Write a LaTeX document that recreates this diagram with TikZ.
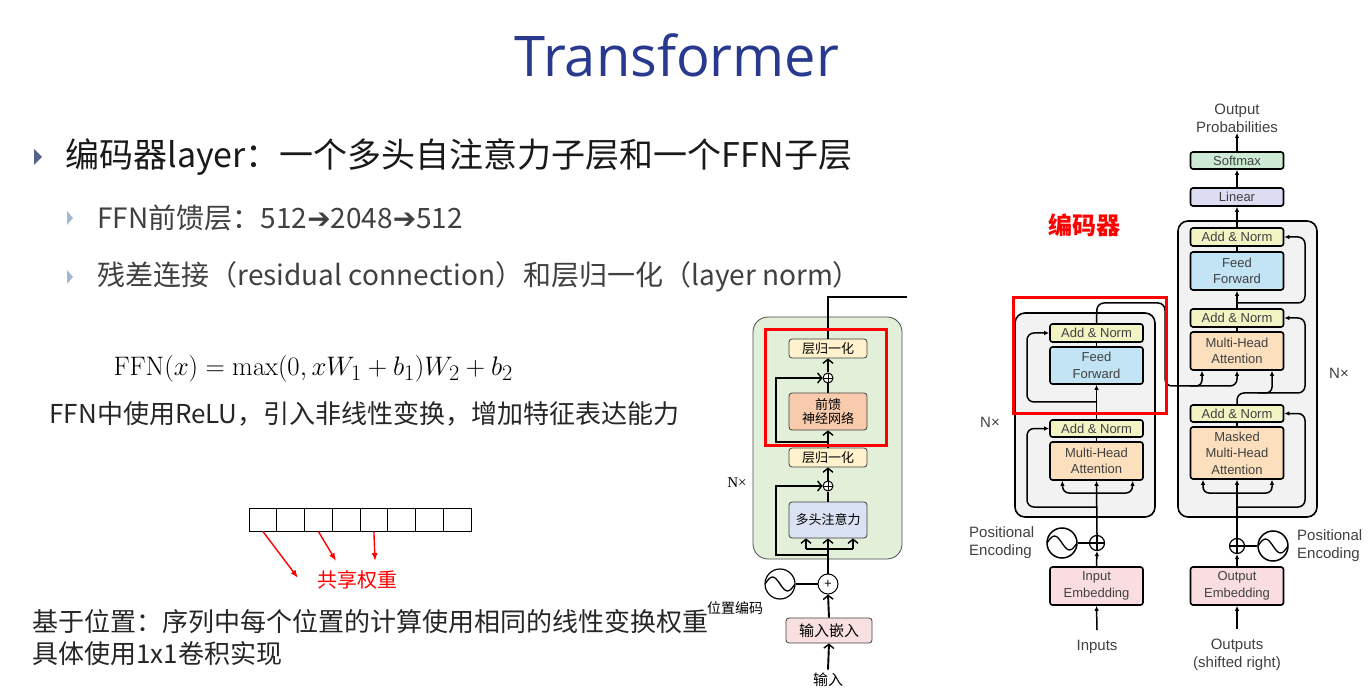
\documentclass[tikz,border=0pt]{standalone}
\usepackage[no-math]{fontspec}
\setmainfont{Noto Sans CJK SC}
\newfontfamily\titlefont{Open Sans}
\newfontfamily\figfont{Liberation Sans}
\newfontfamily\serifen{Liberation Serif}
\newfontfamily\symfont{DejaVu Sans}
\usetikzlibrary{arrows.meta}

\definecolor{titleblue}{RGB}{41,57,142}
\definecolor{bulletdark}{RGB}{84,98,140}
\definecolor{bulletlight}{RGB}{165,183,208}
\definecolor{subtext}{RGB}{64,64,64}
\definecolor{layergreen}{RGB}{226,239,217}
\definecolor{normyellow}{RGB}{255,242,204}
\definecolor{ffnsalmon}{RGB}{248,203,173}
\definecolor{attnblue}{RGB}{218,227,243}
\definecolor{embpink}{RGB}{248,224,224}
\definecolor{stackgray}{RGB}{242,242,242}
\definecolor{anyellow}{RGB}{242,244,195}
\definecolor{ffblue}{RGB}{194,228,245}
\definecolor{mhaorange}{RGB}{252,224,190}
\definecolor{embrose}{RGB}{249,221,225}
\definecolor{linlav}{RGB}{220,220,242}
\definecolor{smgreen}{RGB}{205,235,212}

\begin{document}
\begin{tikzpicture}[x=1pt, y=-1pt,
  mbox/.style={draw=black!75, line width=0.8pt, rounded corners=3pt, minimum width=78pt, align=center, inner sep=0pt, font=\fontsize{13}{14}\selectfont},
  tbox/.style={draw=black, line width=1.6pt, rounded corners=2.5pt, minimum width=93pt, align=center, inner sep=0pt, text=black!75, font=\figfont\fontsize{13}{16.5}\selectfont},
  lbl/.style={align=center, inner sep=0pt, text=black!75, font=\figfont\fontsize{15}{18}\selectfont},
  marr/.style={-{Straight Barb[length=4pt,width=10pt,line width=1.4pt]}, line width=1.9pt},
  tarr/.style={-{Latex[length=5pt,width=4.5pt]}, line width=1.5pt},
  redarr/.style={-{Latex[length=8pt,width=6pt]}, red, line width=1.4pt},
  plussmall/.style={circle, draw, fill=white, line width=1pt, minimum size=10pt, inner sep=0pt,
    path picture={\draw[line width=0.6pt] (path picture bounding box.north) -- (path picture bounding box.south)
      (path picture bounding box.west) -- (path picture bounding box.east);}},
  plusbig/.style={circle, draw, fill=white, line width=1.2pt, minimum size=15pt, inner sep=0pt,
    path picture={\draw[line width=1.2pt] (path picture bounding box.north) -- (path picture bounding box.south)
      (path picture bounding box.west) -- (path picture bounding box.east);}},
  sinecirc/.style={circle, draw, fill=white, line width=1.5pt, minimum size=30pt, inner sep=0pt,
    path picture={\draw[line width=1.3pt] ([xshift=-15pt]path picture bounding box.center) sin ([xshift=-7.5pt,yshift=7pt]path picture bounding box.center)
      cos (path picture bounding box.center) sin ([xshift=7.5pt,yshift=-7pt]path picture bounding box.center) cos ([xshift=15pt]path picture bounding box.center);}},
  cell/.style={draw, line width=1pt, minimum width=27.75pt, minimum height=23pt, inner sep=0pt}
]
\useasboundingbox (0,0) rectangle (1368,692);

% slide text
\node[font=\titlefont\fontsize{56}{60}\selectfont, text=titleblue] (title) at (677,55) {Transformer};
\fill[bulletdark] (34,149) -- (42,157) -- (34,165) -- cycle;
\node[anchor=west, font=\fontsize{34}{40}\selectfont, text=black!90] (pt1) at (62,157) {编码器layer：一个多头自注意力子层和一个FFN子层};
\fill[bulletlight] (67,211) -- (73,218) -- (67,225) -- cycle;
\node[anchor=west, font=\fontsize{28}{32}\selectfont, text=subtext] (pt2) at (94,218) {FFN前馈层：512{\symfont ➔}2048{\symfont ➔}512};
\fill[bulletlight] (67,270) -- (73,277) -- (67,284) -- cycle;
\node[anchor=west, font=\fontsize{28}{32}\selectfont, text=subtext] (pt3) at (94,277) {残差连接（residual connection）和层归一化（layer norm）};
\node[anchor=west, font=\fontsize{24.88}{28}\selectfont] (ffn) at (110,369) {\scalebox{1.075}{$\mathrm{FFN}(x)=\max(0,xW_1+b_1)W_2+b_2$}};
\node[anchor=west, font=\fontsize{26}{30}\selectfont, text=black!85] (relu) at (46,414) {FFN中使用ReLU，引入非线性变换，增加特征表达能力};

% shared weights
\foreach \i in {0,...,7}
  \node[cell] (c\i) at (262.9+\i*27.75,519.5) {};
\coordinate (w1) at (298,578);
\coordinate (w2) at (336,561);
\coordinate (w3) at (375,561);
\draw[redarr] (c0.south) -- (w1);
\draw[redarr] (c2.south) -- (w2);
\draw[redarr] (c4.south) -- (w3);
\node[font=\fontsize{20}{24}\selectfont, text=red] (shared) at (357,580) {共享权重};

\node[anchor=west, font=\fontsize{26}{30}\selectfont, text=black!85] (pos) at (29,622) {基于位置：序列中每个位置的计算使用相同的线性变换权重};
\node[anchor=west, font=\fontsize{26}{30}\selectfont, text=black!85] (conv) at (29,654) {具体使用1x1卷积实现};

% chinese encoder layer
\draw[draw=black!70, fill=layergreen, line width=0.8pt, rounded corners=15pt] (753,317) rectangle (902,559);
\node[mbox, fill=normyellow, minimum height=19pt] (mNorm2) at (828,348.5) {层归一化};
\node[plussmall] (mPlus2) at (828,378) {};
\node[mbox, fill=ffnsalmon, minimum height=37pt] (mFFN) at (828,411.5) {前馈\\神经网络};
\node[mbox, fill=normyellow, minimum height=19pt] (mNorm1) at (828,457.5) {层归一化};
\node[plussmall] (mPlus1) at (828,486) {};
\node[mbox, fill=attnblue, minimum height=36pt] (mAttn) at (828,520) {多头注意力};
\node[circle, draw, fill=white, line width=1pt, minimum size=20pt, inner sep=0pt, font=\fontsize{13}{14}\selectfont] (mPlus0) at (828,584) {+};
\node[sinecirc, line width=1.2pt] (mPE) at (780,584) {};
\node[mbox, fill=embpink, minimum width=86pt, minimum height=25pt, font=\fontsize{15}{16}\selectfont] (mEmb) at (829,630.5) {输入嵌入};
\node[font=\fontsize{15}{16}\selectfont] (mIn) at (828,680) {输入};
\node[font=\fontsize{14}{15}\selectfont] (mPosLbl) at (735,608) {位置编码};
\node[font=\serifen\fontsize{15}{16}\selectfont] (mN) at (737,483) {N×};

\draw[marr] (mIn.north) -- (mEmb.south);
\draw[marr] (mEmb.north) -- (mPlus0.south);
\draw[line width=2.5pt] (mPE.east) -- (mPlus0.west);
\draw[marr] (mPlus0.north) -- (mAttn.south);
\draw[line width=1.9pt] (806,549) -- (853,549);
\draw[marr] (806,549) -- ([xshift=-22pt]mAttn.south);
\draw[marr] (853,549) -- ([xshift=25pt]mAttn.south);
\draw[marr] (828,555) -- (776,555) -- (776,486) -- (mPlus1.west);
\draw[line width=1.9pt] (mAttn.north) -- (mPlus1.south);
\draw[marr] (mPlus1.north) -- (mNorm1.south);
\draw[marr] (mNorm1.north) -- (mFFN.south);
\draw[marr] (828,442) -- (776,442) -- (776,378) -- (mPlus2.west);
\draw[line width=1.9pt] (mFFN.north) -- (mPlus2.south);
\draw[marr] (mPlus2.north) -- (mNorm2.south);
\draw[line width=1.5pt] (mNorm2.north) -- (828,297) -- (907,297);
\draw[red, line width=3pt] (765,330) rectangle (886,445);

% original transformer figure
\draw[line width=1.6pt, fill=stackgray, rounded corners=10pt] (1015,313) rectangle (1155,517);
\draw[line width=1.6pt, fill=stackgray, rounded corners=10pt] (1178,221) rectangle (1317,517);

\node[tbox, fill=anyellow, minimum height=18pt] (encAN2) at (1096.5,333) {Add \& Norm};
\node[tbox, fill=ffblue, minimum height=37pt] (encFF) at (1096.5,365.5) {Feed\\Forward};
\node[tbox, fill=anyellow, minimum height=17pt] (encAN1) at (1096.5,428.5) {Add \& Norm};
\node[tbox, fill=mhaorange, minimum height=38pt] (encMHA) at (1096.5,461) {Multi-Head\\Attention};
\node[plusbig] (encPlus) at (1097,543) {};
\node[sinecirc] (encPE) at (1062,543) {};
\node[tbox, fill=embrose, minimum height=38pt] (encEmb) at (1096.5,586) {Input\\Embedding};
\node[lbl] (inputs) at (1097,647) {Inputs};
\node[lbl, align=left, anchor=west] (encPElbl) at (969,543) {Positional\\Encoding};
\node[lbl] (encN) at (990,422) {N×};

\node[tbox, fill=smgreen, minimum height=17pt] (softmax) at (1237,160.5) {Softmax};
\node[tbox, fill=linlav, minimum height=18pt] (linear) at (1237,197) {Linear};
\node[tbox, fill=anyellow, minimum height=18pt] (decAN3) at (1237,237) {Add \& Norm};
\node[tbox, fill=ffblue, minimum height=38pt] (decFF) at (1237,271) {Feed\\Forward};
\node[tbox, fill=anyellow, minimum height=18pt] (decAN2) at (1237,318) {Add \& Norm};
\node[tbox, fill=mhaorange, minimum height=38pt] (decMHA2) at (1237,351) {Multi-Head\\Attention};
\node[tbox, fill=anyellow, minimum height=17pt] (decAN1) at (1237,413.5) {Add \& Norm};
\node[tbox, fill=mhaorange, minimum height=52pt] (decMHA1) at (1237,453) {Masked\\Multi-Head\\Attention};
\node[plusbig] (decPlus) at (1237,546) {};
\node[sinecirc] (decPE) at (1273,546) {};
\node[tbox, fill=embrose, minimum height=38pt] (decEmb) at (1237,586) {Output\\Embedding};
\node[lbl, anchor=north] (outputs) at (1237,639) {Outputs\\(shifted right)};
\node[lbl, anchor=south] (outprob) at (1237,133) {Output\\Probabilities};
\node[lbl, align=left, anchor=west] (decPElbl) at (1297,546) {Positional\\Encoding};
\node[lbl] (decN) at (1339,373) {N×};

% encoder connectors
\draw[tarr] ([yshift=10pt]inputs.north) -- (encEmb.south);
\draw[tarr] (encEmb.north) -- (encPlus.south);
\draw[line width=1.5pt] (encPE.east) -- (encPlus.west);
\draw[tarr] (encPlus.north) -- (encMHA.south);
\draw[tarr, rounded corners=6pt] (1097,493) -- (1063,493) -- ([xshift=13pt]encMHA.south west);
\draw[tarr, rounded corners=6pt] (1097,493) -- (1132,493) -- ([xshift=-11pt]encMHA.south east);
\draw[tarr, rounded corners=7pt] (1097,507) -- (1027,507) -- (1027,428.5) -- (encAN1.west);
\draw[line width=1.5pt] (encMHA.north) -- (encAN1.south);
\draw[tarr] (encAN1.north) -- (encFF.south);
\draw[tarr, rounded corners=7pt] (1097,402) -- (1027,402) -- (1027,333) -- (encAN2.west);
\draw[line width=1.5pt] (encFF.north) -- (encAN2.south);
\draw[tarr, rounded corners=7pt] (encAN2.north) -- (1097,303) -- (1165,303) -- (1165,386) -- (1237,386) -- (decMHA2.south);
\draw[tarr, rounded corners=6pt] (1190,386) -- (1202,386) -- ([xshift=-35pt]decMHA2.south);

% decoder connectors
\draw[tarr] ([yshift=10pt]outputs.north) -- (decEmb.south);
\draw[tarr] (decEmb.north) -- (decPlus.south);
\draw[line width=1.5pt] (decPlus.east) -- (decPE.west);
\draw[tarr] (decPlus.north) -- (decMHA1.south);
\draw[tarr, rounded corners=6pt] (1237,493) -- (1203,493) -- ([xshift=-34pt]decMHA1.south);
\draw[tarr, rounded corners=6pt] (1237,493) -- (1272,493) -- ([xshift=35pt]decMHA1.south);
\draw[tarr, rounded corners=7pt] (1237,507) -- (1305,507) -- (1305,413.5) -- (decAN1.east);
\draw[line width=1.5pt] (decMHA1.north) -- (decAN1.south);
\draw[tarr, rounded corners=7pt] (decAN1.north) -- (1237,393) -- (1305,393) -- (1305,318) -- (decAN2.east);
\draw[tarr, rounded corners=6pt] (1258,393) -- (1272,393) -- ([xshift=35pt]decMHA2.south);
\draw[line width=1.5pt] (decMHA2.north) -- (decAN2.south);
\draw[tarr] (decAN2.north) -- (decFF.south);
\draw[tarr, rounded corners=7pt] (1237,303) -- (1305,303) -- (1305,237) -- (decAN3.east);
\draw[line width=1.5pt] (decFF.north) -- (decAN3.south);
\draw[tarr] (decAN3.north) -- (linear.south);
\draw[tarr] (linear.north) -- (softmax.south);
\draw[tarr] (softmax.north) -- (outprob.south);

\draw[red, line width=3pt] (1013,298) rectangle (1166,413);
\node[font=\bfseries\fontsize{24}{28}\selectfont, text=red] (encTitle) at (1084,225) {编码器};
\end{tikzpicture}
\end{document}
